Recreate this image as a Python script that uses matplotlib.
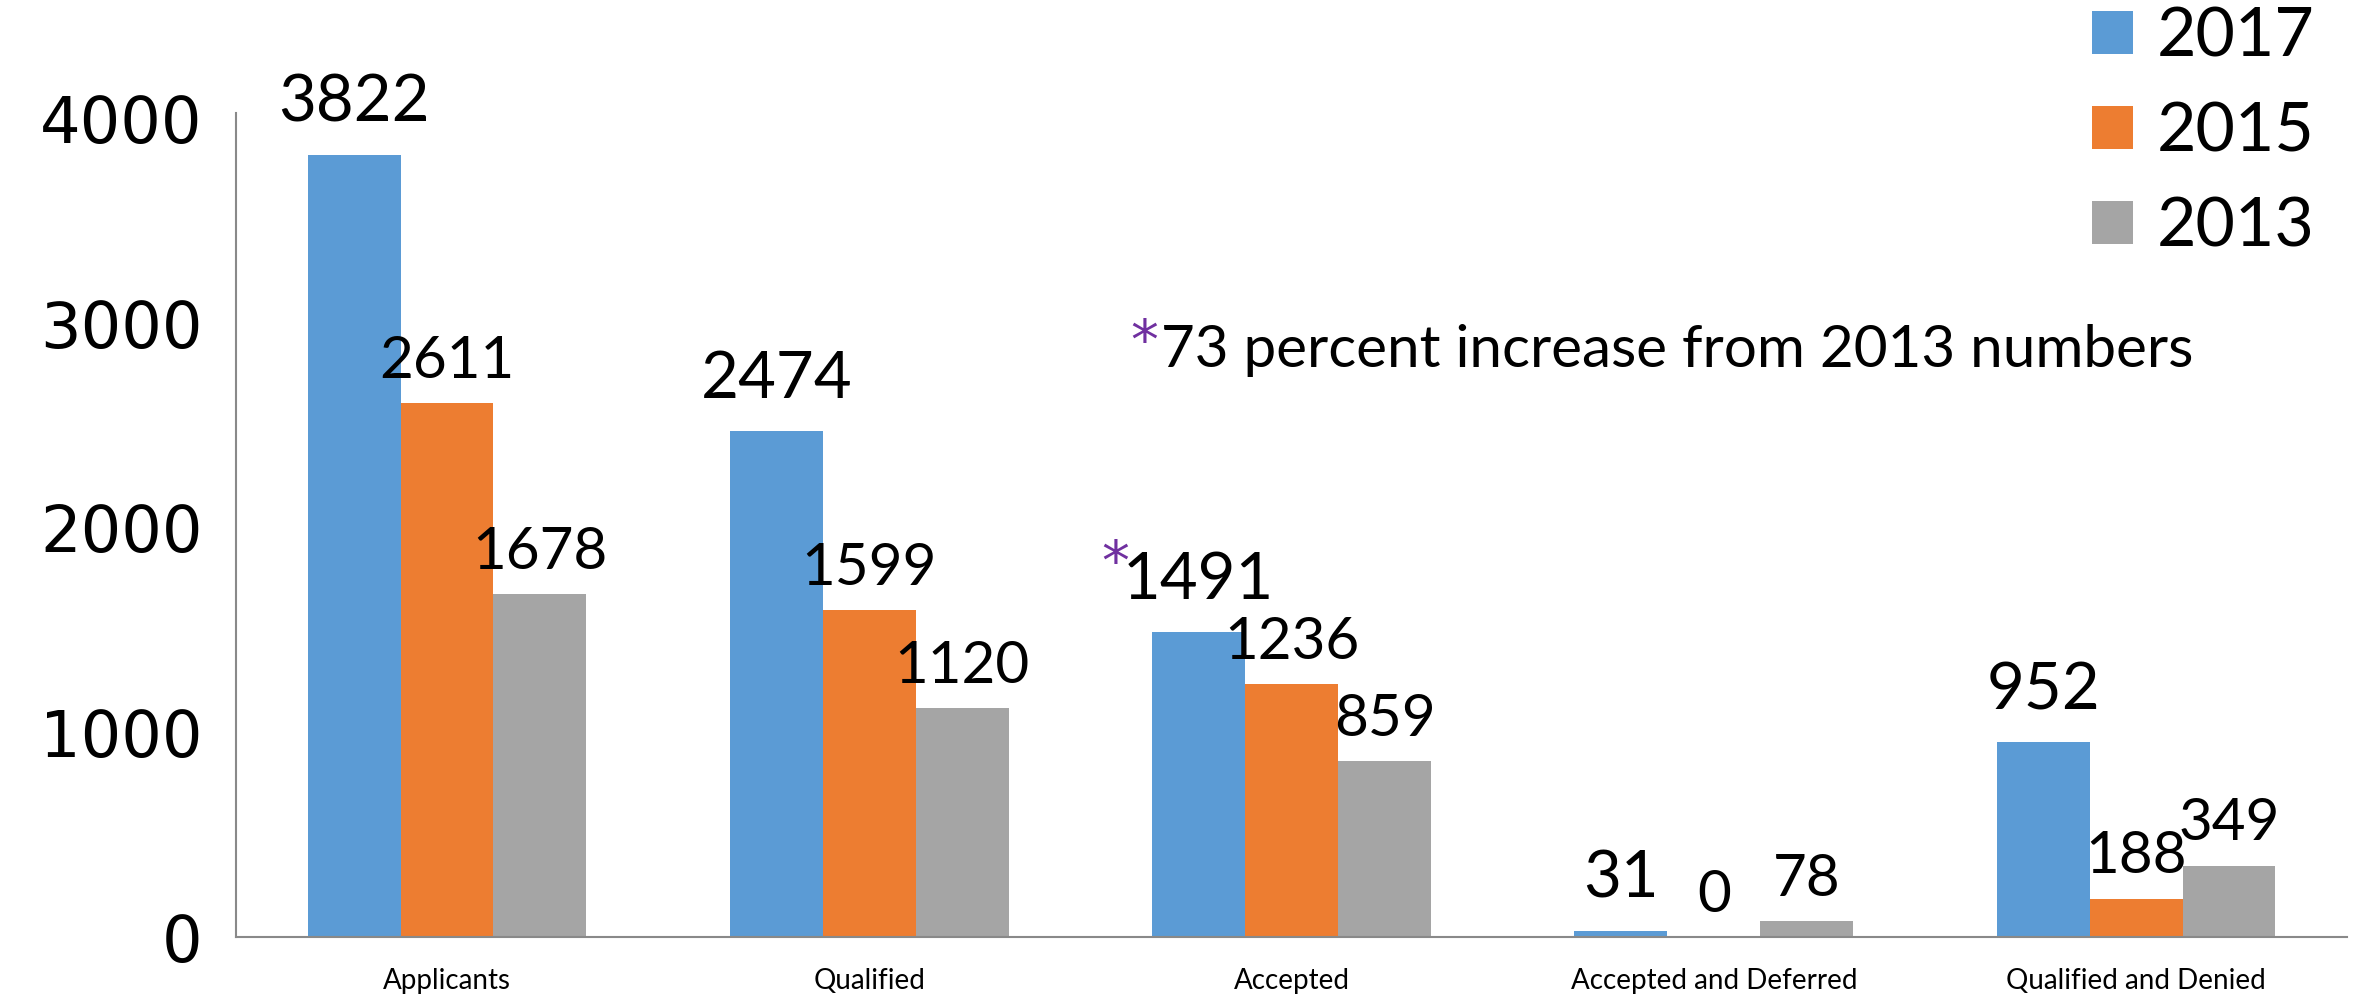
import numpy as np
import matplotlib
matplotlib.use("Agg")
import matplotlib.pyplot as plt

plt.rcParams['font.family'] = ['Lato', 'DejaVu Sans']

categories = ["Applicants", "Qualified", "Accepted", "Accepted and Deferred", "Qualified and Denied"]
years = ["2017", "2015", "2013"]
vals_2017 = [3822, 2474, 1491, 31, 952]
vals_2015 = [2611, 1599, 1236, 0, 188]
vals_2013 = [1678, 1120, 859, 78, 349]
colors = ["#5B9BD5", "#ED7D31", "#A5A5A5"]
note = "73 percent increase from 2013 numbers"

fig = plt.figure(figsize=(23.59, 9.97), dpi=100)
ax = fig.add_axes([0.100, 0.060, 0.895, 0.827])

x = np.arange(len(categories))
w = 0.22
series = [vals_2017, vals_2015, vals_2013]
label_sizes = [47, 42, 42]
label_offsets = [16, 11, 11]
for i, (vals, c) in enumerate(zip(series, colors)):
    pos = x + (i - 1) * w
    ax.bar(pos, vals, width=w, color=c, label=years[i], zorder=2)
    for px, v in zip(pos, vals):
        ax.annotate(str(v), (px, v), xytext=(0, label_offsets[i]), textcoords="offset points",
                    ha="center", va="bottom", fontsize=label_sizes[i])

# purple star on the Accepted 2017 label
ax.annotate("*", (x[2] - w, vals_2017[2]), xytext=(-60, 48), textcoords="offset points",
            ha="center", va="center", fontsize=40, color="#7030A0", family="DejaVu Sans")

# note
ax.text(0.437, 0.720, "*", transform=ax.transAxes, ha="right", va="center",
        fontsize=40, color="#7030A0", family="DejaVu Sans")
ax.text(0.438, 0.712, note, transform=ax.transAxes, ha="left", va="center",
        fontsize=42)

ax.set_xlim(-0.5, 4.5)
ax.set_ylim(0, 4030)
ax.set_yticks([0, 1000, 2000, 3000, 4000])
ax.set_yticklabels(["0", "1000", "2000", "3000", "4000"], family="DejaVu Sans", fontsize=46)
ax.set_xticks(x)
ax.set_xticklabels(categories, fontsize=20)
ax.tick_params(axis="y", length=0, pad=24)
ax.tick_params(axis="x", length=0, pad=22)
for s in ["top", "right"]:
    ax.spines[s].set_visible(False)
for s in ["left", "bottom"]:
    ax.spines[s].set_color("#898989")
    ax.spines[s].set_linewidth(1.5)

ax.legend(loc="upper left", bbox_to_anchor=(0.8724, 1.028), bbox_transform=fig.transFigure,
          frameon=False, fontsize=49, handlelength=0.6, handleheight=0.6,
          handletextpad=0.35, labelspacing=0.49, borderpad=0)

fig.savefig("out.png", dpi=100)
